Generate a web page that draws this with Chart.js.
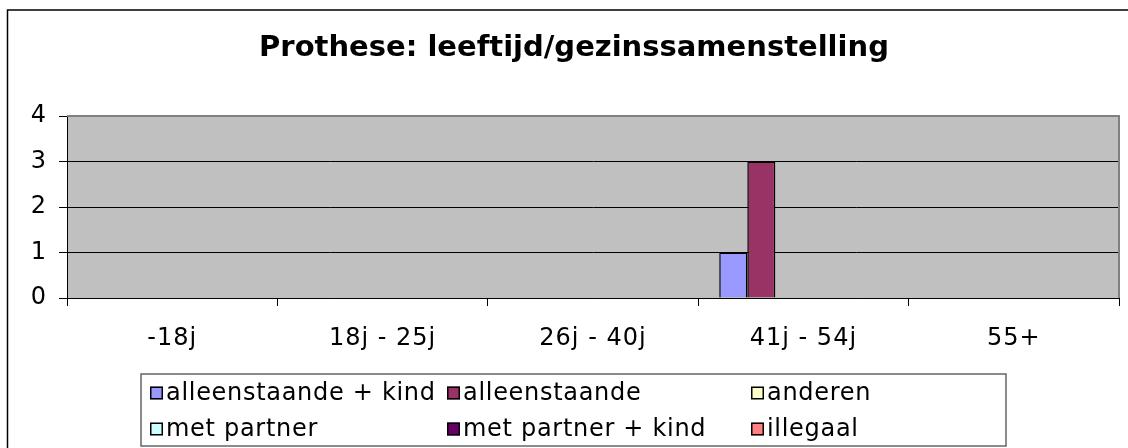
<!DOCTYPE html>
<html>
<head>
<meta charset="utf-8">
<script src="https://cdn.jsdelivr.net/npm/chart.js@4/dist/chart.umd.min.js"></script>
<style>
  html, body { margin: 0; padding: 0; background: #fff; }
  #wrap { width: 1128px; height: 448px; position: relative; }
</style>
</head>
<body>
<div id="wrap"><canvas id="c" width="1128" height="448"></canvas></div>
<script>
const chartTitle = 'Prothese: leeftijd/gezinssamenstelling';
const categories = ['-18j', '18j - 25j', '26j - 40j', '41j - 54j', '55+'];
const seriesNames = ['alleenstaande + kind', 'alleenstaande', 'anderen', 'met partner', 'met partner + kind', 'illegaal'];
const alleenstaandeKind = [0, 0, 0, 1, 0];
const alleenstaande = [0, 0, 0, 3, 0];
const anderen = [0, 0, 0, 0, 0];
const metPartner = [0, 0, 0, 0, 0];
const metPartnerKind = [0, 0, 0, 0, 0];
const illegaal = [0, 0, 0, 0, 0];
const yTicks = [0, 1, 2, 3, 4];

const seriesValues = [alleenstaandeKind, alleenstaande, anderen, metPartner, metPartnerKind, illegaal];
const palette = ['#9999FF', '#993366', '#FFFFCC', '#CCFFFF', '#660066', '#FF8080'];

const FONT = 'DejaVu Sans, Verdana, sans-serif';

const decorPlugin = {
  id: 'decor',
  beforeDraw(chart) {
    const ctx = chart.ctx, a = chart.chartArea;
    ctx.save();
    ctx.fillStyle = '#fff';
    ctx.fillRect(0, 0, chart.width, chart.height);
    ctx.strokeStyle = '#000';
    ctx.lineWidth = 1.5;
    ctx.beginPath();
    ctx.moveTo(chart.width + 2, 10);
    ctx.lineTo(7.5, 10);
    ctx.lineTo(7.5, chart.height + 2);
    ctx.stroke();
    ctx.fillStyle = '#C0C0C0';
    ctx.fillRect(a.left, a.top, a.right - a.left, a.bottom - a.top);
    ctx.restore();
    ctx.letterSpacing = '1px';
  },
  beforeDatasetsDraw(chart) {
    const ctx = chart.ctx, a = chart.chartArea;
    ctx.save();
    ctx.strokeStyle = '#808080';
    ctx.lineWidth = 2;
    ctx.beginPath();
    ctx.moveTo(a.left, a.top);
    ctx.lineTo(a.right, a.top);
    ctx.lineTo(a.right, a.bottom);
    ctx.stroke();
    ctx.restore();
  },
  afterDraw(chart) {
    const ctx = chart.ctx;
    ctx.save();
    // title
    ctx.letterSpacing = '0px';
    ctx.fillStyle = '#000';
    ctx.font = 'bold 29px ' + FONT;
    ctx.textAlign = 'center';
    ctx.textBaseline = 'alphabetic';
    ctx.fillText(chartTitle, 574, 56);
    // legend
    const box = { left: 141, top: 374, right: 1006, bottom: 446 };
    ctx.strokeStyle = '#666';
    ctx.lineWidth = 1.5;
    ctx.strokeRect(box.left, box.top, box.right - box.left, box.bottom - box.top);
    const colX = [150, 447, 751];
    const rowY = [393, 429];
    const sq = 13;
    ctx.font = '24px ' + FONT;
    ctx.letterSpacing = '0.7px';
    ctx.textAlign = 'left';
    ctx.textBaseline = 'middle';
    chart.data.datasets.forEach((ds, i) => {
      const x = colX[i % 3], y = rowY[Math.floor(i / 3)];
      ctx.fillStyle = ds.backgroundColor;
      ctx.fillRect(x, y - sq / 2, sq, sq);
      ctx.strokeStyle = '#000';
      ctx.lineWidth = 1.5;
      ctx.strokeRect(x + 0.75, y - sq / 2 + 0.75, sq - 1.5, sq - 1.5);
      ctx.fillStyle = '#000';
      ctx.fillText(ds.label, x + sq + 3, y + 1);
    });
    ctx.restore();
  }
};

new Chart(document.getElementById('c'), {
  type: 'bar',
  data: {
    labels: categories,
    datasets: seriesNames.map((name, i) => ({
      label: name,
      data: seriesValues[i],
      backgroundColor: palette[i],
      borderColor: '#000',
      borderWidth: 1.5
    }))
  },
  options: {
    responsive: false,
    animation: false,
    devicePixelRatio: 1,
    layout: { padding: { left: 0, right: 9, top: 116, bottom: 80 } },
    plugins: {
      legend: { display: false },
      title: { display: false },
      tooltip: { enabled: false }
    },
    datasets: { bar: { categoryPercentage: 0.8, barPercentage: 1.0 } },
    scales: {
      x: {
        offset: true,
        afterFit(scale) { scale.height = 70; },
        grid: { offset: true, drawOnChartArea: false, drawTicks: true, tickLength: 8, tickColor: '#000', color: '#000' },
        border: { display: true, color: '#000', width: 1 },
        ticks: { color: '#000', font: { family: FONT, size: 24 }, padding: 18, maxRotation: 0, autoSkip: false }
      },
      y: {
        min: yTicks[0],
        max: yTicks[yTicks.length - 1],
        afterFit(scale) { scale.width = 67; },
        afterBuildTicks(scale) { scale.ticks = yTicks.map(v => ({ value: v })); },
        grid: {
          color: (c) => (c.tick && c.tick.value === yTicks[yTicks.length - 1]) ? '#808080' : '#000',
          lineWidth: 1,
          tickLength: 8,
          tickColor: '#000',
          drawTicks: true
        },
        border: { display: true, color: '#000', width: 1 },
        ticks: { color: '#000', font: { family: FONT, size: 24 }, padding: 12, stepSize: 1 }
      }
    }
  },
  plugins: [decorPlugin]
});
</script>
</body>
</html>
